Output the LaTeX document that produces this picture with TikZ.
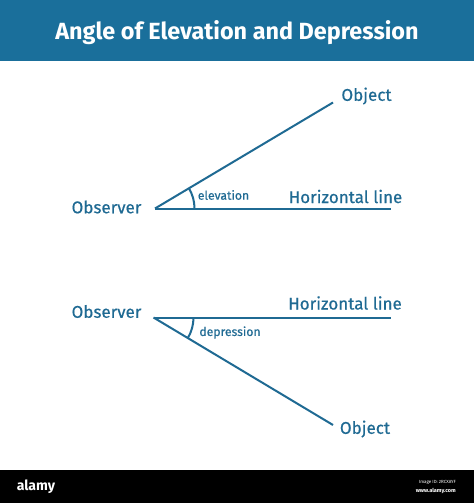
\documentclass[tikz,border=0pt]{standalone}
\usepackage{fontspec}
\setmainfont{Fira Sans}
\newfontfamily\medfont{Fira Sans}[FakeBold=0.5]
\usetikzlibrary{calc}
\definecolor{headblue}{HTML}{1A6F9B}
\definecolor{inkblue}{HTML}{1F6A93}

\begin{document}
\begin{tikzpicture}[x=1pt,y=-1pt,
  lbl/.style={text=inkblue,inner sep=0pt,font=\medfont\fontsize{17}{20}\selectfont},
  tiny/.style={text=inkblue,inner sep=0pt,font=\medfont\fontsize{12.2}{14}\selectfont},
  ray/.style={draw=inkblue,line width=2pt}]

  \useasboundingbox (0,0) rectangle (474,503);
  \fill[white] (0,0) rectangle (474,503);
  \fill[headblue] (0,0) rectangle (474,61);
  \node[text=white,font=\bfseries\fontsize{23.4}{27}\selectfont] (title) at (237,33) {Angle of Elevation and Depression};

  \coordinate (o1) at (155,208.5);
  \coordinate (h1) at (391,208.5);
  \coordinate (b1) at (333,102.5);
  \draw[ray] (o1) -- (h1);
  \draw[ray] (o1) -- (b1);
  \draw[ray] ($(o1)+(39.5,0)$) arc[start angle=0,end angle=30.8,radius=39.5pt];
  \node[lbl] (obs1) at (106.5,207) {Observer};
  \node[lbl] (obj1) at (366.5,96) {Object};
  \node[lbl] (hor1) at (345.5,196.5) {Horizontal line};
  \node[tiny] (elev) at (223.5,195) {elevation};

  \coordinate (o2) at (153.5,317.5);
  \coordinate (h2) at (391,317.5);
  \coordinate (b2) at (333,425);
  \draw[ray] (o2) -- (h2);
  \draw[ray] (o2) -- (b2);
  \draw[ray] ($(o2)+(40,0)$) arc[start angle=0,end angle=-30.9,radius=40pt];
  \node[lbl] (obs2) at (106.5,311.5) {Observer};
  \node[lbl] (obj2) at (365,429) {Object};
  \node[lbl] (hor2) at (345,303) {Horizontal line};
  \node[tiny] (depr) at (230,332.5) {depression};

  \fill[black] (0,470) rectangle (474,503);
  \node[text=white,font=\bfseries\fontsize{14}{16}\selectfont] (logo) at (36,486.5) {alamy};
  \node[text=white,anchor=east,inner sep=0pt,font=\fontsize{4.5}{5}\selectfont] (imgid) at (456,482.5) {Image ID: 2RCXAYF};
  \node[text=white,anchor=east,inner sep=0pt,font=\bfseries\fontsize{5.5}{6}\selectfont] (www) at (456,491) {www.alamy.com};

\end{tikzpicture}
\end{document}
